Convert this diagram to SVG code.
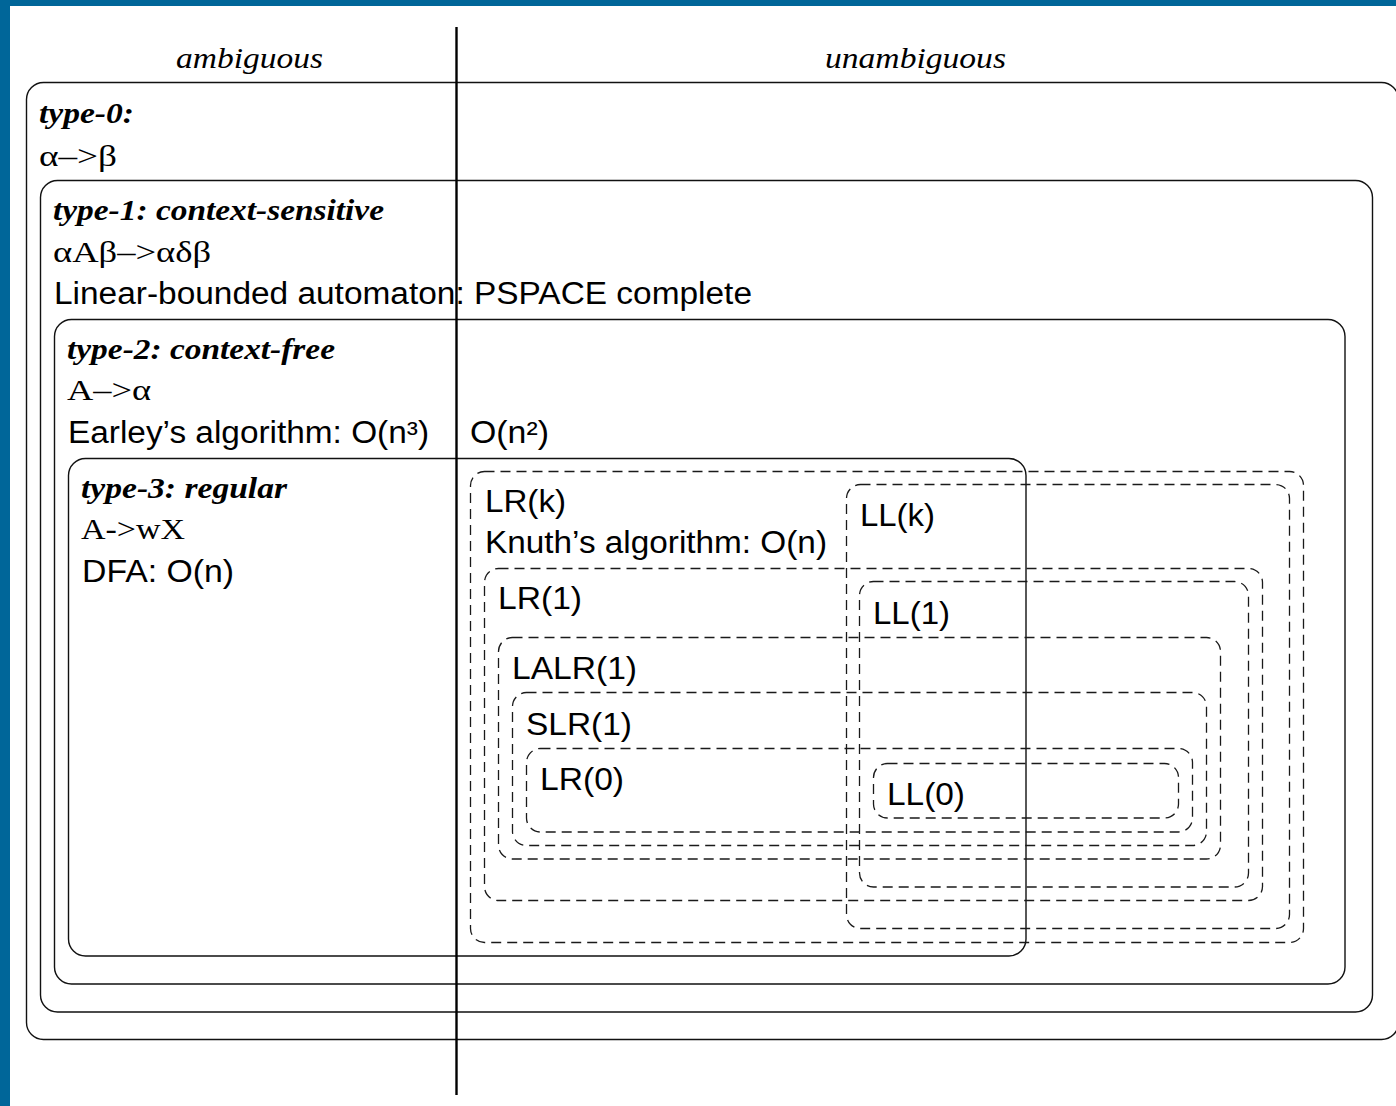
<svg xmlns="http://www.w3.org/2000/svg" width="1396" height="1106" viewBox="0 0 1396 1106">
  <style>
    .frame { fill: #006699; }
    .box { fill: none; stroke: #111; stroke-width: 1.4; }
    .dbox { fill: none; stroke: #1a1a1a; stroke-width: 1.3; stroke-dasharray: 10 6; }
    .serif { font-family: "Liberation Serif", "Times New Roman", serif; font-size: 30px; fill: #000; }
    .head { font-family: "Liberation Serif", "Times New Roman", serif; font-size: 30px; font-style: italic; font-weight: bold; fill: #000; }
    .col { font-family: "Liberation Serif", "Times New Roman", serif; font-size: 30px; font-style: italic; fill: #000; }
    .sans { font-family: "Liberation Sans", Arial, sans-serif; font-size: 31px; fill: #000; }
    .divider { stroke: #000; stroke-width: 2.4; }
  </style>

  <rect x="0" y="0" width="1396" height="1106" fill="#fff"/>
  <!-- page frame: top and left bands -->
  <rect class="frame" x="0" y="0" width="1396" height="6"/>
  <rect class="frame" x="0" y="0" width="10" height="1106"/>

  <!-- column headings -->
  <g id="headings">
    <text class="col" x="176" y="68" textLength="147" lengthAdjust="spacingAndGlyphs">ambiguous</text>
    <text class="col" x="825" y="68" textLength="181" lengthAdjust="spacingAndGlyphs">unambiguous</text>
  </g>

  <!-- Chomsky hierarchy: nested solid boxes -->
  <g id="type0">
    <rect class="box" x="26.5" y="82.5" width="1372" height="957" rx="17"/>
    <text class="head" x="39" y="123" textLength="95" lengthAdjust="spacingAndGlyphs">type-0:</text>
    <text class="serif" x="39" y="166" textLength="78" lengthAdjust="spacingAndGlyphs">α–&gt;β</text>
  </g>

  <g id="type1">
    <rect class="box" x="40.5" y="180.5" width="1332" height="831.5" rx="17"/>
    <text class="head" x="53" y="220" textLength="331" lengthAdjust="spacingAndGlyphs">type-1: context-sensitive</text>
    <text class="serif" x="53" y="262" textLength="158" lengthAdjust="spacingAndGlyphs">αAβ–&gt;αδβ</text>
    <text class="sans" x="54" y="304" textLength="698" lengthAdjust="spacingAndGlyphs">Linear-bounded automaton: PSPACE complete</text>
  </g>

  <g id="type2">
    <rect class="box" x="54.5" y="319.5" width="1290.5" height="664.5" rx="17"/>
    <text class="head" x="67" y="359" textLength="268" lengthAdjust="spacingAndGlyphs">type-2: context-free</text>
    <text class="serif" x="67" y="400" textLength="84" lengthAdjust="spacingAndGlyphs">A–&gt;α</text>
    <text class="sans" x="68" y="443" textLength="361" lengthAdjust="spacingAndGlyphs">Earley’s algorithm: O(n³)</text>
    <text class="sans" x="470" y="443" textLength="79" lengthAdjust="spacingAndGlyphs">O(n²)</text>
  </g>

  <g id="type3">
    <rect class="box" x="68.5" y="458.5" width="957.5" height="497.5" rx="17"/>
    <text class="head" x="81" y="498" textLength="206" lengthAdjust="spacingAndGlyphs">type-3: regular</text>
    <text class="serif" x="81" y="539" textLength="104" lengthAdjust="spacingAndGlyphs">A-&gt;wX</text>
    <text class="sans" x="82" y="582" textLength="152" lengthAdjust="spacingAndGlyphs">DFA: O(n)</text>
  </g>

  <!-- deterministic parser classes: nested dashed boxes -->
  <g id="lrk">
    <rect class="dbox" x="470.5" y="471.5" width="833" height="471" rx="14"/>
    <text class="sans" x="485" y="512" textLength="81" lengthAdjust="spacingAndGlyphs">LR(k)</text>
    <text class="sans" x="485" y="553" textLength="342" lengthAdjust="spacingAndGlyphs">Knuth’s algorithm: O(n)</text>
  </g>

  <g id="llk">
    <rect class="dbox" x="846.5" y="484.5" width="443" height="444" rx="14"/>
    <text class="sans" x="860" y="526" textLength="75" lengthAdjust="spacingAndGlyphs">LL(k)</text>
  </g>

  <g id="lr1">
    <rect class="dbox" x="484.5" y="568.5" width="778" height="332" rx="14"/>
    <text class="sans" x="498" y="609" textLength="84" lengthAdjust="spacingAndGlyphs">LR(1)</text>
  </g>

  <g id="ll1">
    <rect class="dbox" x="859.5" y="581.5" width="389" height="305.5" rx="14"/>
    <text class="sans" x="873" y="624" textLength="77" lengthAdjust="spacingAndGlyphs">LL(1)</text>
  </g>

  <g id="lalr1">
    <rect class="dbox" x="498.5" y="637.5" width="722" height="221.5" rx="14"/>
    <text class="sans" x="512" y="679" textLength="125" lengthAdjust="spacingAndGlyphs">LALR(1)</text>
  </g>

  <g id="slr1">
    <rect class="dbox" x="512.5" y="692.5" width="694" height="153" rx="14"/>
    <text class="sans" x="526" y="735" textLength="106" lengthAdjust="spacingAndGlyphs">SLR(1)</text>
  </g>

  <g id="lr0">
    <rect class="dbox" x="526.5" y="748.5" width="666" height="83.5" rx="14"/>
    <text class="sans" x="540" y="790" textLength="84" lengthAdjust="spacingAndGlyphs">LR(0)</text>
  </g>

  <g id="ll0">
    <rect class="dbox" x="873.5" y="763.5" width="305" height="54.5" rx="14"/>
    <text class="sans" x="887" y="805" textLength="78" lengthAdjust="spacingAndGlyphs">LL(0)</text>
  </g>

  <!-- ambiguous / unambiguous divider -->
  <g id="connectors">
    <line class="divider" x1="456.5" y1="27" x2="456.5" y2="1095"/>
  </g>
</svg>
